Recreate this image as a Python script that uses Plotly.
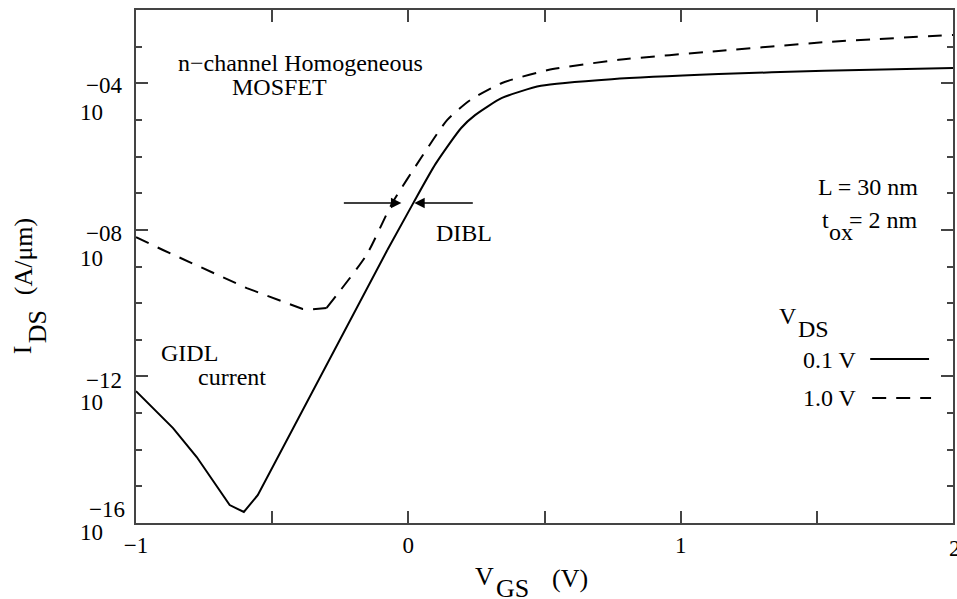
import plotly.graph_objects as go

# ---- data ----
vgs_01 = [-1.0, -0.864, -0.777, -0.656, -0.604, -0.553, -0.077, 0.018, 0.10, 0.194, 0.245, 0.344, 0.487, 0.747, 1.139, 1.527, 2.0]
ids_01 = [3.98e-13, 3.89e-14, 6.31e-15, 3.09e-16, 2.00e-16, 5.75e-16, 2.82e-9, 5.37e-8, 6.31e-7, 6.03e-6,
          1.35e-5, 3.98e-5, 8.51e-5, 1.29e-4, 1.78e-4, 2.19e-4, 2.63e-4]

vgs_10 = [-1.0, -0.901, -0.593, -0.388, -0.35, -0.300, -0.154, -0.059, 0.05, 0.143, 0.227, 0.344, 0.513, 0.773, 1.139, 1.527, 2.0]
ids_10 = [6.31e-9, 2.82e-9, 2.57e-10, 6.92e-11, 6.76e-11, 7.41e-11, 2.04e-9, 5.37e-8, 1.0e-6, 1.0e-5,
          3.47e-5, 1.02e-4, 2.29e-4, 4.37e-4, 7.59e-4, 1.32e-3, 2.09e-3]

x_major = [-1, 0, 1, 2]
x_labels = ["\u22121", "0", "1", "2"]
x_minor = [-0.5, 0.5, 1.5]
y_major = [1e-16, 1e-12, 1e-8, 1e-4]
y_exponents = ["\u221216", "\u221212", "\u221208", "\u221204"]
y_minor = [1e-15, 1e-14, 1e-13, 1e-11, 1e-10, 1e-9, 1e-7, 1e-6, 1e-5, 1e-3]

FONT = "Liberation Serif, Times New Roman, serif"
AX = "#444444"

# plot area in pixels
L, R, T, B = 136, 955, 10, 523
W, H = 957, 599


def px(x):
    return (x - L) / (R - L)


def py(y):
    return (B - y) / (B - T)


fig = go.Figure()


def add_curve(xs, ys, split_x, dash):
    # straight segments in the off region (sharp kinks), smooth spline through the knee
    i = xs.index(split_x)
    base = dict(color="black", width=2, dash=dash)
    fig.add_trace(go.Scatter(x=xs[:i + 1], y=ys[:i + 1], mode="lines", line=dict(base, shape="linear"),
                             showlegend=False))
    fig.add_trace(go.Scatter(x=xs[i:], y=ys[i:], mode="lines", line=dict(base, shape="spline", smoothing=0.6),
                             showlegend=False))


add_curve(vgs_01, ids_01, -0.077, "solid")
add_curve(vgs_10, ids_10, -0.300, "14px,10px")

anns = []


def ann(text, x, y, xanchor="center", size=24, angle=0):
    anns.append(dict(text=text, x=px(x), y=py(y), xref="paper", yref="paper", showarrow=False,
                     xanchor=xanchor, yanchor="middle", textangle=angle,
                     font=dict(family=FONT, size=size, color="black")))


# y tick labels (10 with exponent above-right)
exp_y = [509, 380, 233, 85]
ten_y = [532, 402, 258, 112]
exp_x = [127, 124, 124, 124]
for e, ey, ty, ex in zip(y_exponents, exp_y, ten_y, exp_x):
    ann(e, ex, ey, xanchor="right", size=23)
    ann("10", 91, ty, size=23)

# the right-most x label, half cut by the page edge as in the reference
ann(x_labels[-1], 957, 548, size=23)

# annotations
ann("n\u2212channel Homogeneous", 301, 63)
ann("MOSFET", 280, 87)
ann("L = 30 nm", 922, 187, xanchor="right")
ann("t", 822, 220, xanchor="left")
ann("ox", 829, 232, xanchor="left")
ann("= 2 nm", 922, 220, xanchor="right")
ann("V", 779, 316, xanchor="left")
ann("DS", 798, 329, xanchor="left")
ann("0.1 V", 861, 360, xanchor="right")
ann("1.0 V", 861, 398, xanchor="right")
ann("DIBL", 465, 233)
ann("GIDL", 190, 353)
ann("current", 232, 377)

# axis titles
ann("V", 485, 576, size=26)
ann("GS", 513, 588, size=26)
ann("(V)", 571, 578, size=26)
ann("I", 22, 350, size=26, angle=-90)
ann("DS", 37, 327, size=26, angle=-90)
ann("(A/\u03bcm)", 23, 257, size=26, angle=-90)

# DIBL arrows
anns.append(dict(x=px(402), y=py(203), xref="paper", yref="paper", ax=-59, ay=0, text="",
                 showarrow=True, arrowhead=2, arrowsize=1.6, arrowwidth=1.3, arrowcolor="black"))
anns.append(dict(x=px(415), y=py(203), xref="paper", yref="paper", ax=60, ay=0, text="",
                 showarrow=True, arrowhead=2, arrowsize=1.6, arrowwidth=1.3, arrowcolor="black"))

shapes = [
    dict(type="line", xref="paper", yref="paper", x0=px(872), x1=px(931), y0=py(359), y1=py(359),
         line=dict(color="black", width=2)),
    dict(type="line", xref="paper", yref="paper", x0=px(874), x1=px(933), y0=py(398), y1=py(398),
         line=dict(color="black", width=2, dash="14px,10px")),
]

fig.update_layout(
    width=W, height=H,
    margin=dict(l=L, r=W - R, t=T, b=H - B),
    paper_bgcolor="white", plot_bgcolor="white",
    font=dict(family=FONT, size=23, color="black"),
    annotations=anns, shapes=shapes,
    xaxis=dict(range=[-1, 2], showgrid=False, zeroline=False, showline=True, linecolor=AX, linewidth=2,
               mirror="ticks", ticks="inside", ticklen=12, tickwidth=1.5, tickcolor=AX,
               tickmode="array", tickvals=x_major, ticktext=x_labels,
               tickfont=dict(family=FONT, size=23, color="black"),
               minor=dict(tickmode="array", tickvals=x_minor, ticks="inside", ticklen=12, tickwidth=1.5, tickcolor=AX)),
    yaxis=dict(type="log", range=[-16, -2], showgrid=False, zeroline=False, showline=True, linecolor=AX, linewidth=2,
               mirror="ticks", ticks="inside", ticklen=12, tickwidth=1.5, tickcolor=AX,
               tickmode="array", tickvals=y_major, showticklabels=False,
               minor=dict(tickmode="array", tickvals=y_minor, ticks="inside", ticklen=6, tickwidth=1.5, tickcolor=AX)),
)

fig.write_html("out.html")
